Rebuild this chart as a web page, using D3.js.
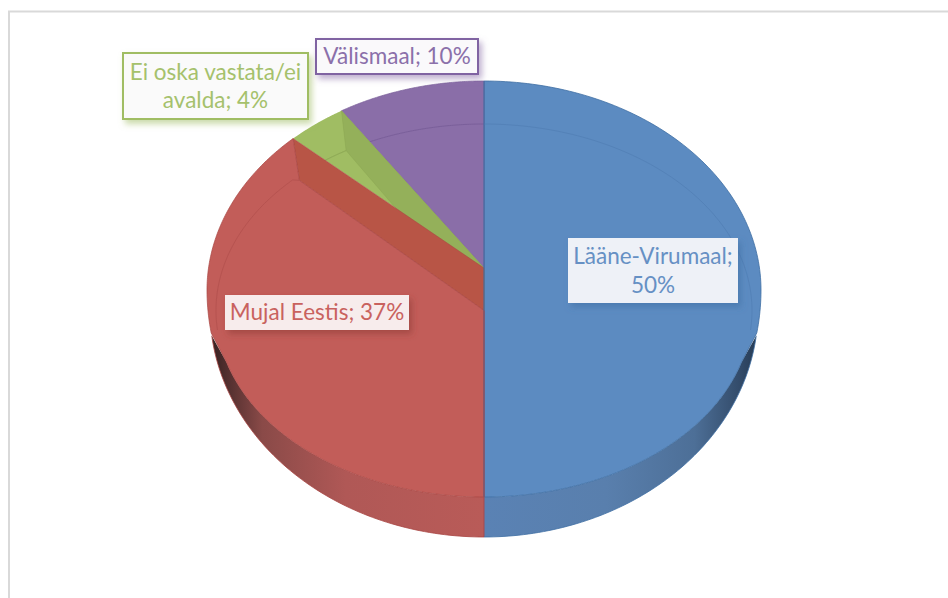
<!DOCTYPE html>
<html><head><meta charset="utf-8">
<script src="https://cdn.jsdelivr.net/npm/d3@7"></script>
<style>html,body{margin:0;padding:0;background:#fff}svg{display:block}</style>
</head><body><svg id="c" width="948" height="598"></svg>
<script>
// Chart data, in drawing order clockwise from twelve o'clock
const categories = ["Lääne-Virumaal", "Mujal Eestis", "Ei oska vastata/ei avalda", "Välismaal"];
const percentLabels = ["50%", "37%", "4%", "10%"];
const sliceShares = [50, 37.9, 3.5, 8.6]; // sweep
const labelLines = [["Lääne-Virumaal;", "50%"], ["Mujal Eestis; 37%"], ["Ei oska vastata/ei", "avalda; 4%"], ["Välismaal; 10%"]];
const faceColors = ["#5c8bc1", "#c25d59", "#a0bd63", "#8a6ea8"];
const bandColors = ["#5c8bc1", "#b85546", "#94b05a", "#8a6ea8"];
const edgeColors = ["#3f6ea3", "#a84542", "#8ba653", "#7a5f9a"];
const textColors = ["#6690c4", "#c9625e", "#a5c16c", "#8b70aa"];

const svg = d3.select("#c");
const W = 948, H = 598;
const cx = 484;
// projected rings of the tilted pie
const rimTop = {cy: 290, rx: 277, ry: 209};
const rimLow = {cy: 290, rx: 277, ry: 247};
const wallOuter = {cy: 310, rx: 274, ry: 227};
const face = {cy: 310.5, rx: 268, ry: 186.5};
const hubY = 268, lowHubY = 310.5, redCornerDrop = 5;

const pie = d3.pie().sort(null).value(d => d).startAngle(0).endAngle(2 * Math.PI);
const arcs = pie(sliceShares);
const pt = (e, a) => [cx + e.rx * Math.sin(a), e.cy - e.ry * Math.cos(a)];
const sweep = (e, a0, a1, n = 80) => d3.range(n + 1).map(i => pt(e, a0 + (a1 - a0) * i / n));
const line = d3.line();
const deg = d => d * Math.PI / 180;

// frame
svg.append("path").attr("d", line([[W, 11.5], [9, 11.5], [9, H]])).attr("fill", "none").attr("stroke", "#d9d9d9").attr("stroke-width", 2);

const defs = svg.append("defs");
function grad(id, stops) {
  const g = defs.append("linearGradient").attr("id", id).attr("gradientUnits", "userSpaceOnUse")
    .attr("x1", cx - rimLow.rx).attr("x2", cx + rimLow.rx).attr("y1", 0).attr("y2", 0);
  stops.forEach(s => g.append("stop").attr("offset", s[0]).attr("stop-color", s[1]));
}
grad("wallR", [[0.5, "#5a82b4"], [0.72, "#597fad"], [0.88, "#4d6f97"], [0.96, "#334c6b"], [1, "#243850"]]);
grad("wallL", [[0, "#2e1c1c"], [0.03, "#4c2c2c"], [0.1, "#8a4a48"], [0.25, "#b05856"], [0.5, "#b95b58"]]);
function shadow(id, color) {
  defs.append("filter").attr("id", id).attr("x", "-15%").attr("y", "-30%").attr("width", "130%").attr("height", "170%")
    .append("feDropShadow").attr("dx", 3).attr("dy", 4).attr("stdDeviation", 3).attr("flood-color", color).attr("flood-opacity", 0.55);
}
shadow("sh0", "#3f6ea3"); shadow("sh1", "#8c3a38"); shadow("sh2", faceColors[2]); shadow("sh3", faceColors[3]);

const blue = arcs[0], red = arcs[1], green = arcs[2], purple = arcs[3];
const half = Math.PI;
const rimTip = deg(10), wallTip = deg(6.5), faceTip = deg(16);

// side wall
const wallR = sweep(wallOuter, half / 2 + wallTip, blue.endAngle).concat(sweep(face, blue.endAngle, half / 2 + faceTip));
const wallL = sweep(wallOuter, blue.endAngle, 3 * half / 2 - wallTip).concat(sweep(face, 3 * half / 2 - faceTip, blue.endAngle));
svg.append("path").attr("d", line(wallR) + "Z").attr("fill", "url(#wallR)");
svg.append("path").attr("d", line(wallL) + "Z").attr("fill", "url(#wallL)");

// blue face with rim
const bluePts = sweep(rimTop, blue.startAngle, half / 2)
  .concat(sweep(rimLow, half / 2, half / 2 + rimTip, 10))
  .concat(sweep(face, half / 2 + faceTip, blue.endAngle));
svg.append("path").attr("d", line(bluePts) + "Z").attr("fill", faceColors[0]).attr("stroke", edgeColors[0]).attr("stroke-width", 0.8);

// purple wedge
svg.append("path").attr("d", line([[cx, hubY]].concat(sweep(rimTop, purple.startAngle, purple.endAngle))) + "Z")
  .attr("fill", faceColors[3]).attr("stroke", edgeColors[3]).attr("stroke-width", 0.7);
svg.append("path").attr("d", line(sweep(face, purple.startAngle, purple.endAngle))).attr("fill", "none").attr("stroke", edgeColors[3]);

// green wedge, its inner ring and its cut wall
svg.append("path").attr("d", line([[cx, hubY]].concat(sweep(rimTop, green.startAngle, green.endAngle))) + "Z").attr("fill", faceColors[2]);
svg.append("path").attr("d", line(sweep(face, green.startAngle, green.endAngle))).attr("fill", "none").attr("stroke", edgeColors[2]);
svg.append("path").attr("d", line([pt(rimTop, green.endAngle), [cx, hubY], [cx, lowHubY], pt(face, green.endAngle)]) + "Z")
  .attr("fill", bandColors[2]).attr("stroke", edgeColors[2]).attr("stroke-width", 0.5);

// red cut wall
const redRingEnd = pt(face, red.endAngle);
const redCorner = [redRingEnd[0], redRingEnd[1] + redCornerDrop];
svg.append("path").attr("d", line([pt(rimTop, red.endAngle), [cx, hubY], [cx, lowHubY], redCorner]) + "Z")
  .attr("fill", bandColors[1]).attr("stroke", edgeColors[1]).attr("stroke-width", 0.5);

// red face with rim
const redPts = sweep(face, red.startAngle, 3 * half / 2 - faceTip)
  .concat(sweep(rimLow, 3 * half / 2 - rimTip, 3 * half / 2, 10))
  .concat(sweep(rimTop, 3 * half / 2, red.endAngle))
  .concat([redCorner, [cx, lowHubY]]);
svg.append("path").attr("d", line(redPts) + "Z").attr("fill", faceColors[1]).attr("stroke", edgeColors[1]).attr("stroke-width", 0.7);

// faint inner ring on the two big faces
svg.append("path").attr("d", line(sweep(face, 0, half / 2 + deg(6)))).attr("fill", "none").attr("stroke", "#5482b8");
svg.append("path").attr("d", line(sweep(face, 3 * half / 2 - deg(6), red.endAngle - deg(2)).concat([redCorner]))).attr("fill", "none").attr("stroke", "#b65350");

// dividing edge between the halves and the front seam
svg.append("path").attr("d", line([[cx, rimTop.cy - rimTop.ry], [cx, face.cy + face.ry]])).attr("stroke", "#3f6ea3").attr("fill", "none");
svg.append("path").attr("d", line([[cx, lowHubY], [cx, wallOuter.cy + wallOuter.ry]])).attr("stroke", "#a04a50").attr("fill", "none");
svg.append("path").attr("d", line(sweep(wallOuter, half / 2 + wallTip, blue.endAngle))).attr("fill", "none").attr("stroke", edgeColors[0]).attr("stroke-width", 0.8);
svg.append("path").attr("d", line(sweep(wallOuter, blue.endAngle, 3 * half / 2 - wallTip))).attr("fill", "none").attr("stroke", edgeColors[1]).attr("stroke-width", 0.8);

// data labels: box size is layout, text comes from the arrays
const boxes = [
  {x: 568, y: 238, w: 170, h: 65, fill: "#eef1f7", border: null},
  {x: 225, y: 295, w: 184, h: 35, fill: "#f7ecec", border: null},
  {x: 123, y: 53, w: 185, h: 66, fill: "#fafafa", border: faceColors[2]},
  {x: 316, y: 39, w: 162, h: 35, fill: "#faf9fb", border: "#8064a2"}
];
const fontPx = 22.5, leading = 28.5;
categories.forEach((name, i) => {
  const b = boxes[i];
  const g = svg.append("g").attr("class", "label").attr("aria-label", name + "; " + percentLabels[i]);
  g.append("rect").attr("x", b.x).attr("y", b.y).attr("width", b.w).attr("height", b.h)
    .attr("fill", b.fill).attr("filter", `url(#sh${i})`)
    .attr("stroke", b.border || "none").attr("stroke-width", b.border ? 2 : 0);
  const lines = labelLines[i];
  const y0 = b.y + b.h / 2 - (lines.length - 1) * leading / 2;
  lines.forEach((t, k) => g.append("text").text(t)
    .attr("x", b.x + b.w / 2).attr("y", y0 + k * leading).attr("dy", "0.35em")
    .attr("text-anchor", "middle").attr("font-family", "Lato, Carlito, sans-serif")
    .attr("font-size", fontPx).attr("fill", textColors[i]));
});
</script></body></html>
